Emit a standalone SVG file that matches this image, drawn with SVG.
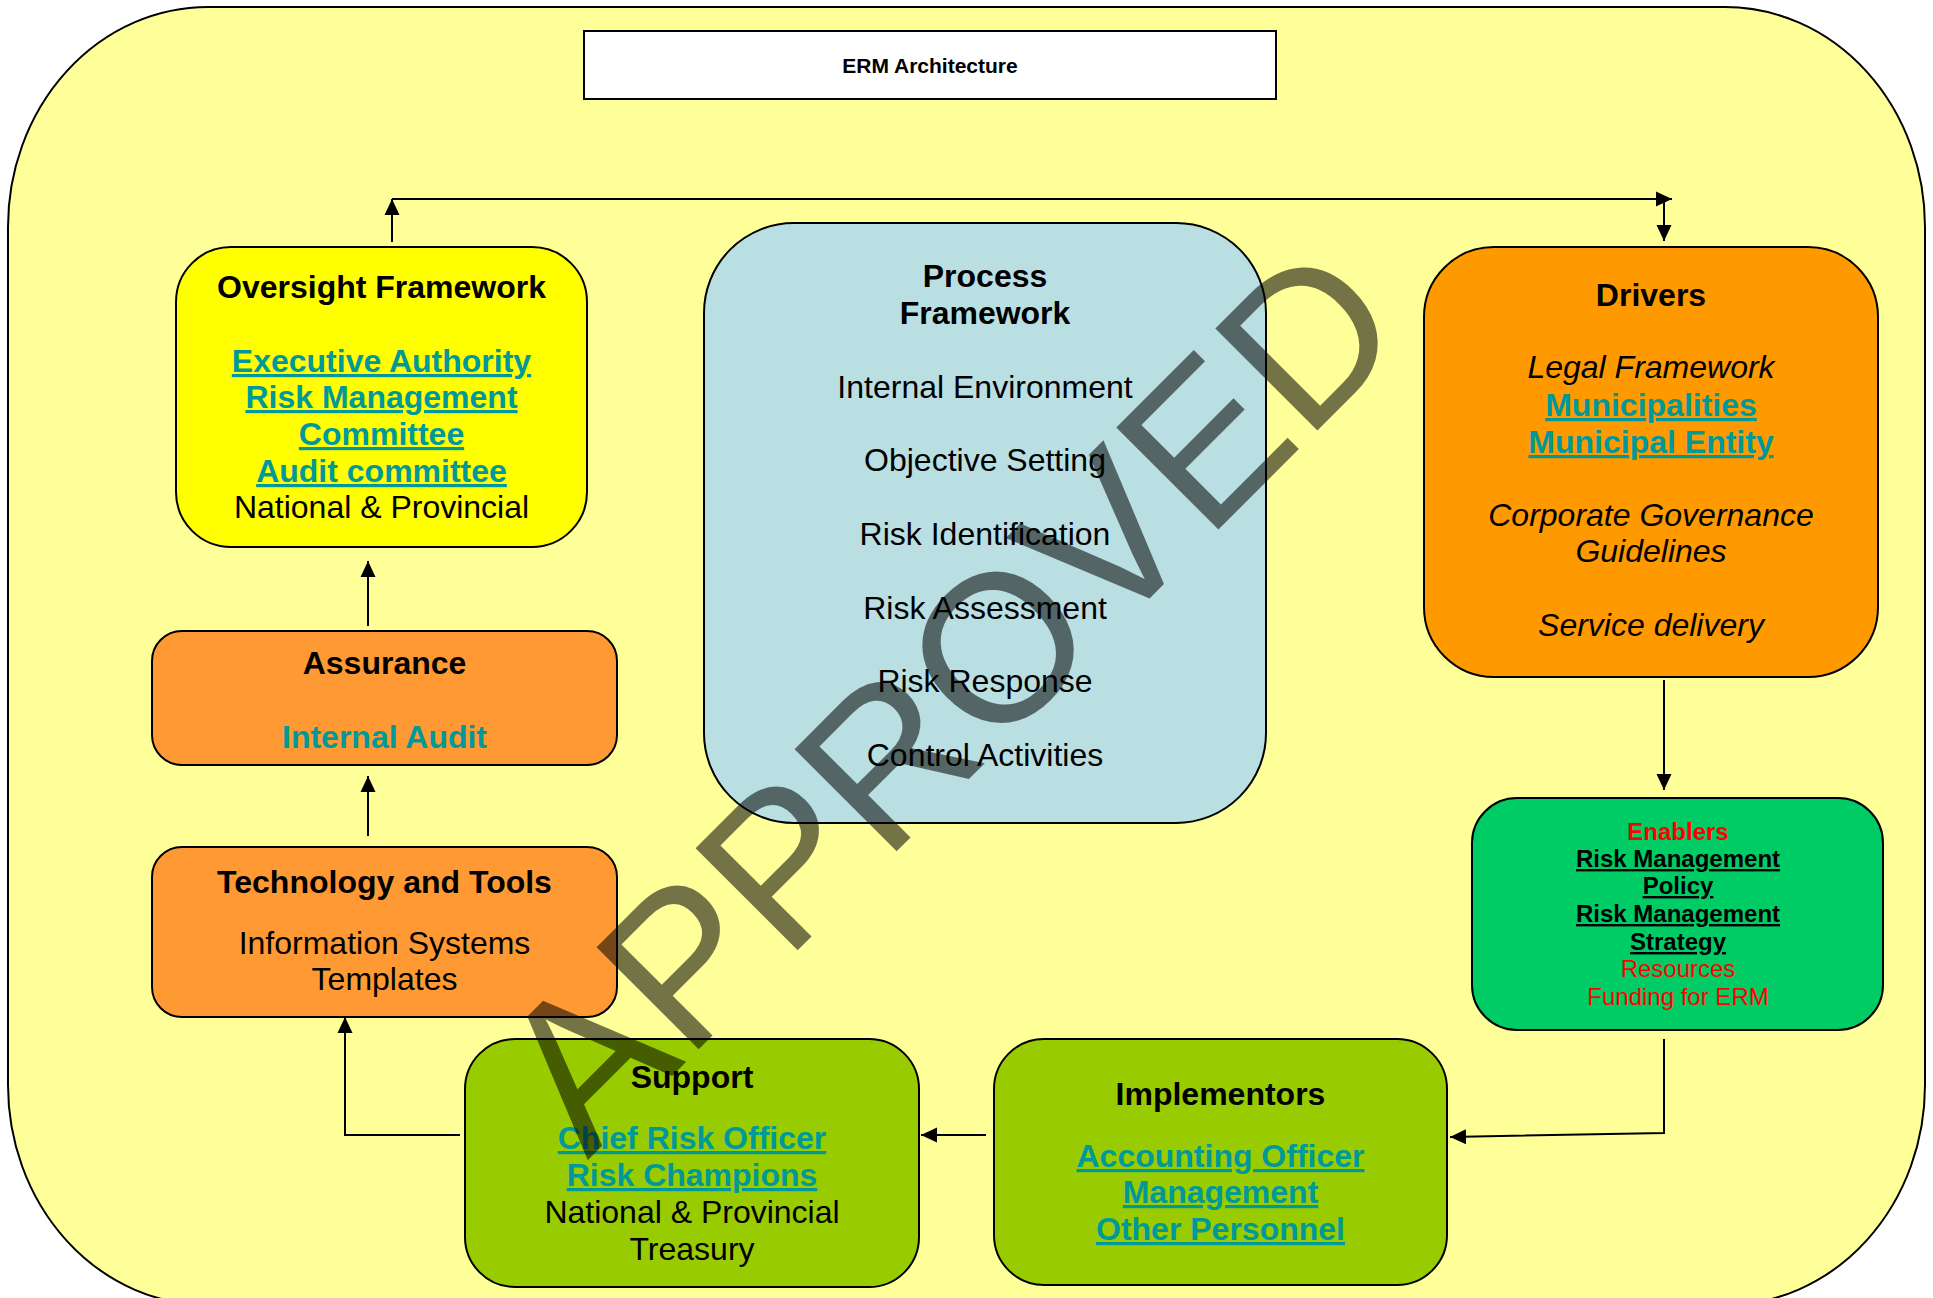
<svg xmlns="http://www.w3.org/2000/svg" width="1933" height="1298" viewBox="0 0 1933 1298">
<defs>
<marker id="arr" viewBox="0 0 16 16" refX="16" refY="8" markerWidth="16" markerHeight="16" markerUnits="userSpaceOnUse" orient="auto">
<path d="M0,0.5 L16,8 L0,15.5 z" fill="#000"/>
</marker>
<style>
text{font-family:"Liberation Sans",Arial,sans-serif;text-anchor:middle;font-size:32px;fill:#000}
.b{font-weight:bold}
.i{font-style:italic}
.t{fill:#009999;font-weight:bold}
.u{text-decoration:underline}
.box{stroke:#000;stroke-width:2}
.s{font-size:24px}
.red{fill:#ff0000}
.conn line,.conn polyline{stroke:#000;stroke-width:2;fill:none}
</style>
</defs>
<rect x="0" y="0" width="1933" height="1298" fill="#ffffff"/>
<rect x="8" y="7" width="1917" height="1298" rx="200" ry="220" fill="#ffff99" stroke="#000" stroke-width="2"/>

<g id="title">
<rect x="584" y="31" width="692" height="68" fill="#ffffff" stroke="#000" stroke-width="2"/>
<text x="930" y="73" class="b" style="font-size:21px">ERM Architecture</text>
</g>

<g id="oversight">
<rect class="box" x="176" y="247" width="411" height="300" rx="55" fill="#ffff00"/>
<text x="381.5" y="298" class="b">Oversight Framework</text>
<text x="381.5" y="372" class="t u">Executive Authority</text>
<text x="381.5" y="408" class="t u">Risk Management</text>
<text x="381.5" y="445" class="t u">Committee</text>
<text x="381.5" y="482" class="t u">Audit committee</text>
<text x="381.5" y="518">National &amp; Provincial</text>
</g>

<g id="assurance">
<rect class="box" x="152" y="631" width="465" height="134" rx="30" fill="#ff9933"/>
<text x="384.5" y="674" class="b">Assurance</text>
<text x="384.5" y="748" class="t">Internal Audit</text>
</g>

<g id="technology">
<rect class="box" x="152" y="847" width="465" height="170" rx="30" fill="#ff9933"/>
<text x="384.5" y="893" class="b">Technology and Tools</text>
<text x="384.5" y="954">Information Systems</text>
<text x="384.5" y="990">Templates</text>
</g>

<g id="process">
<rect class="box" x="704" y="223" width="562" height="600" rx="90" fill="#badfe3"/>
<text x="985" y="287" class="b">Process</text>
<text x="985" y="324" class="b">Framework</text>
<text x="985" y="398">Internal Environment</text>
<text x="985" y="471">Objective Setting</text>
<text x="985" y="545">Risk Identification</text>
<text x="985" y="619">Risk Assessment</text>
<text x="985" y="692">Risk Response</text>
<text x="985" y="766">Control Activities</text>
</g>

<g id="drivers">
<rect class="box" x="1424" y="247" width="454" height="430" rx="70" fill="#ff9900"/>
<text x="1651" y="306" class="b">Drivers</text>
<text x="1651" y="378" class="i">Legal Framework</text>
<text x="1651" y="416" class="t u">Municipalities</text>
<text x="1651" y="453" class="t u">Municipal Entity</text>
<text x="1651" y="526" class="i">Corporate Governance</text>
<text x="1651" y="562" class="i">Guidelines</text>
<text x="1651" y="636" class="i">Service delivery</text>
</g>

<g id="enablers">
<rect class="box" x="1472" y="798" width="411" height="232" rx="45" fill="#00cc66"/>
<text x="1678" y="840" class="s b red">Enablers</text>
<text x="1678" y="867" class="s b u">Risk Management</text>
<text x="1678" y="894" class="s b u">Policy</text>
<text x="1678" y="922" class="s b u">Risk Management</text>
<text x="1678" y="950" class="s b u">Strategy</text>
<text x="1678" y="977" class="s red">Resources</text>
<text x="1678" y="1005" class="s red">Funding for ERM</text>
</g>

<g id="support">
<rect class="box" x="465" y="1039" width="454" height="248" rx="50" fill="#99cc00"/>
<text x="692" y="1088" class="b">Support</text>
<text x="692" y="1149" class="t u">Chief Risk Officer</text>
<text x="692" y="1186" class="t u">Risk Champions</text>
<text x="692" y="1223">National &amp; Provincial</text>
<text x="692" y="1260">Treasury</text>
</g>

<g id="implementors">
<rect class="box" x="994" y="1039" width="453" height="246" rx="50" fill="#99cc00"/>
<text x="1220.5" y="1105" class="b">Implementors</text>
<text x="1220.5" y="1167" class="t u">Accounting Officer</text>
<text x="1220.5" y="1203" class="t u">Management</text>
<text x="1220.5" y="1240" class="t u">Other Personnel</text>
</g>

<g id="connectors" class="conn">
<line x1="368" y1="836" x2="368" y2="776" marker-end="url(#arr)"/>
<line x1="368" y1="626" x2="368" y2="561" marker-end="url(#arr)"/>
<line x1="392" y1="242" x2="392" y2="199" marker-end="url(#arr)"/>
<line x1="392" y1="199" x2="1672" y2="199" marker-end="url(#arr)"/>
<line x1="1664" y1="199" x2="1664" y2="241" marker-end="url(#arr)"/>
<line x1="1664" y1="680" x2="1664" y2="790" marker-end="url(#arr)"/>
<polyline points="1664,1039 1664,1133 1450,1137" marker-end="url(#arr)"/>
<line x1="986" y1="1135" x2="921" y2="1135" marker-end="url(#arr)"/>
<polyline points="460,1135 345,1135 345,1017" marker-end="url(#arr)"/>
</g>

<g id="watermark">
<text x="1000" y="748" transform="rotate(-45 1000 748)" style="font-size:210px;fill:#000;fill-opacity:0.55">APPROVED</text>
</g>
</svg>
